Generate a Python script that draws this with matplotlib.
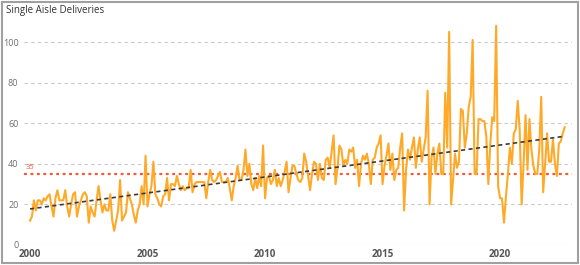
import matplotlib
matplotlib.use("Agg")
import matplotlib.pyplot as plt
from matplotlib.patches import Rectangle
import numpy as np

# Monthly single aisle deliveries, Jan 2000 onwards
y2000 = [12, 14, 22, 17, 22, 22, 20, 23, 22, 24, 25, 19]
y2001 = [14, 23, 27, 22, 22, 22, 27, 19, 14, 20, 25, 26]
y2002 = [14, 19, 22, 25, 26, 24, 11, 19, 16, 14, 22, 29]
y2003 = [22, 16, 20, 17, 17, 25, 12, 7, 12, 17, 32, 12]
y2004 = [14, 16, 26, 23, 20, 15, 11, 17, 20, 29, 20, 44]
y2005 = [19, 25, 29, 41, 25, 23, 20, 19, 24, 25, 33, 22]
y2006 = [30, 30, 29, 34, 30, 27, 29, 27, 28, 28, 37, 26]
y2007 = [30, 31, 31, 31, 31, 31, 23, 31, 37, 32, 31, 32]
y2008 = [34, 36, 31, 31, 31, 33, 28, 22, 29, 33, 39, 32]
y2009 = [32, 37, 47, 34, 40, 30, 27, 33, 28, 34, 29, 49]
y2010 = [23, 33, 34, 30, 32, 37, 29, 33, 29, 32, 36, 41]
y2011 = [26, 33, 39, 39, 35, 32, 31, 33, 45, 41, 34, 27]
y2012 = [35, 41, 40, 32, 40, 33, 32, 42, 43, 38, 46, 54]
y2013 = [30, 38, 49, 47, 39, 42, 40, 47, 46, 48, 38, 42]
y2014 = [29, 40, 44, 42, 45, 40, 30, 42, 43, 48, 50, 54]
y2015 = [30, 39, 44, 50, 37, 45, 32, 37, 38, 48, 55, 17]
y2016 = [37, 47, 42, 48, 53, 38, 47, 53, 41, 47, 53, 76]
y2017 = [20, 43, 48, 35, 45, 50, 35, 35, 75, 48, 105, 20]
y2018 = [32, 45, 38, 41, 67, 66, 48, 55, 68, 73, 101, 35]
y2019 = [35, 62, 62, 61, 61, 53, 30, 50, 63, 61, 108, 29]
y2020 = [23, 23, 11, 24, 35, 48, 40, 55, 57, 71, 57, 20]
y2021 = [40, 64, 37, 62, 47, 39, 35, 35, 47, 73, 26, 40]
y2022 = [55, 41, 41, 52, 40, 34, 50, 51, 55, 58]

deliveries = np.array(y2000 + y2001 + y2002 + y2003 + y2004 + y2005 + y2006 + y2007
                      + y2008 + y2009 + y2010 + y2011 + y2012 + y2013 + y2014 + y2015
                      + y2016 + y2017 + y2018 + y2019 + y2020 + y2021 + y2022, dtype=float)
months = 2000 + np.arange(len(deliveries)) / 12.0

threshold = 35
year_ticks = [2000, 2005, 2010, 2015, 2020]
value_ticks = [0, 20, 40, 60, 80, 100]

fig = plt.figure(figsize=(5.8, 2.65), dpi=100)
ax = fig.add_axes([24 / 580, 20 / 265, 548 / 580, 223.3 / 265])

# linear trend
slope, intercept = np.polyfit(months, deliveries, 1)
trend = slope * months + intercept

ax.plot(months, deliveries, color="#FFA928", lw=1.5, zorder=3)
ax.plot(months, trend, color="#3a3a3a", lw=1.2, dashes=(2.5, 2), zorder=4)
ax.axhline(threshold, color="#EF5B3A", lw=1.6, dashes=(1.3, 1.6), zorder=2)
ax.text(1999.8, threshold + 1.5, str(threshold), color="#EF5B3A", fontsize=5.5,
        family="Open Sans", va="bottom", ha="left")

ax.set_xlim(1999.745, 2023.06)
ax.set_ylim(0, 110)
ax.set_xticks(year_ticks)
ax.set_yticks(value_ticks)
ax.grid(axis="y", color="#C8C8C8", lw=0.8, dashes=(3, 3))
ax.set_axisbelow(True)
for s in ax.spines.values():
    s.set_visible(False)
ax.tick_params(axis="both", length=0)
ax.tick_params(axis="y", pad=4, labelsize=6.5, labelcolor="#707070")
ax.tick_params(axis="x", pad=3, labelsize=7, labelcolor="#555555")
for lab in ax.get_xticklabels():
    lab.set_fontweight("bold")
    lab.set_family("Open Sans")
for lab in ax.get_yticklabels():
    lab.set_family("Open Sans")

fig.text(6 / 580, 1 - 10 / 265, "Single Aisle Deliveries", fontsize=7,
         family="Open Sans", color="#333333", va="center", ha="left")

fig.patches.append(Rectangle((0.003, 0.006), 0.994, 0.988, transform=fig.transFigure,
                             fill=False, edgecolor="#A0A0A0", lw=1.5))

fig.savefig("out.png", dpi=100)
